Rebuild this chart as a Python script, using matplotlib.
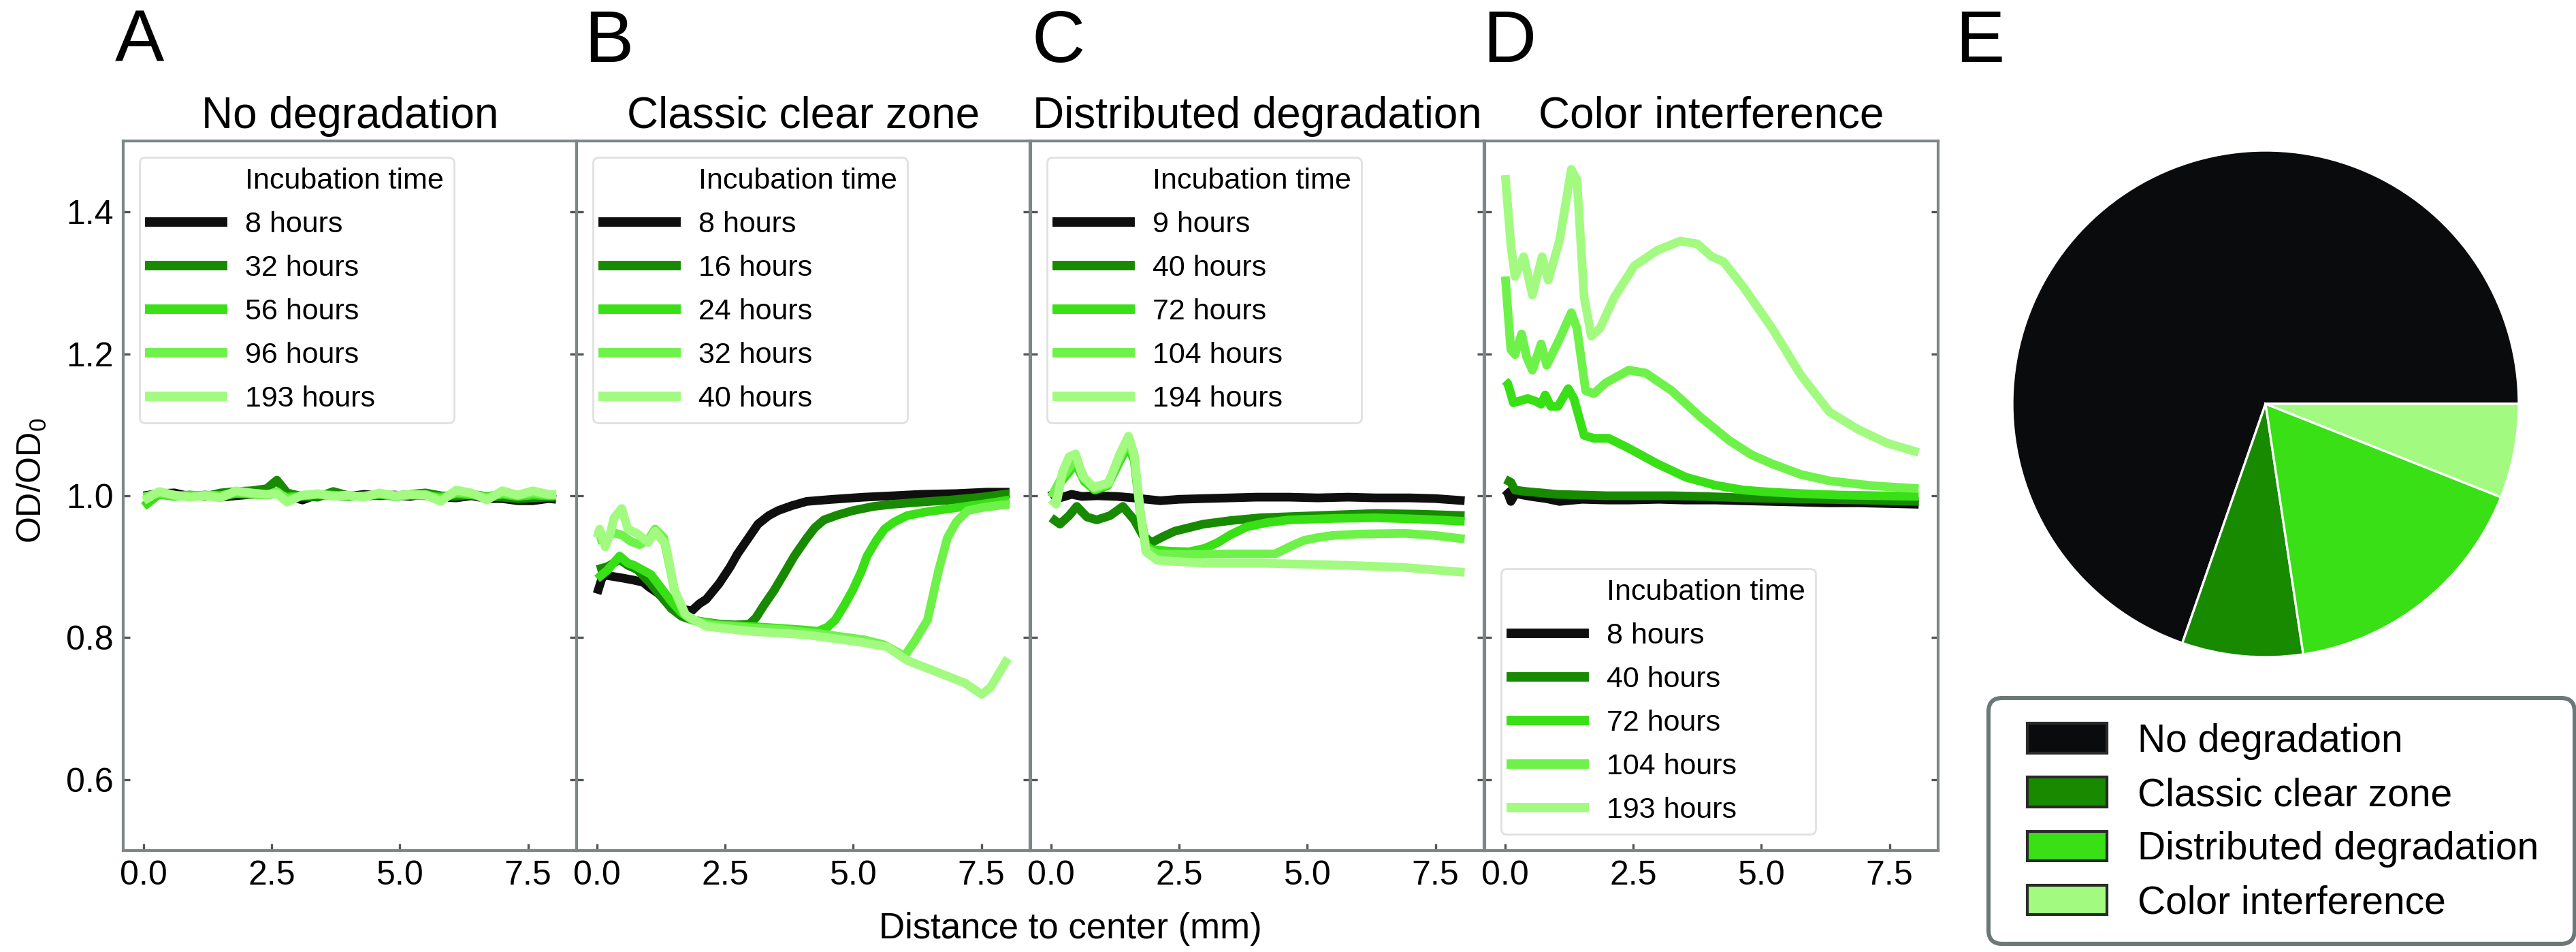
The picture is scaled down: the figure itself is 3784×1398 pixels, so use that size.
import matplotlib
matplotlib.use("Agg")
import matplotlib.pyplot as plt
from matplotlib.patches import Patch, FancyBboxPatch
from matplotlib.lines import Line2D

plt.rcParams['font.family'] = ['Liberation Sans', 'DejaVu Sans']
plt.rcParams['mathtext.default'] = 'regular'

W, H, DPI = 3784, 1398, 200

# line colours, darkest to palest
line_colors = ['#0f0f0f', '#178a00', '#38e015', '#6ef24a', '#a2fb80']

titles = ['No degradation', 'Classic clear zone', 'Distributed degradation', 'Color interference']
letters = ['A', 'B', 'C', 'D', 'E']

# ---- panel A: no degradation ----
none_labels = ['8 hours', '32 hours', '56 hours', '96 hours', '193 hours']
none_x = [0.0, 0.3, 0.6, 0.9, 1.2, 1.5, 1.8, 2.1, 2.4, 2.6, 2.8, 3.1, 3.4, 3.7, 4.0,
          4.3, 4.6, 4.9, 5.2, 5.5, 5.8, 6.1, 6.4, 6.7, 7.0, 7.3, 7.6, 7.9, 8.05]
none_8h = [1.000, 1.003, 1.004, 0.999, 1.001, 0.998, 1.000, 1.002, 1.003, 1.004, 1.000, 0.994, 1.002, 1.000, 0.999,
           1.002, 1.000, 1.001, 0.999, 1.003, 0.998, 0.997, 1.000, 0.996, 0.996, 0.993, 0.993, 0.996, 0.995]
none_32h = [0.999, 1.002, 1.000, 1.001, 0.999, 1.004, 1.006, 1.007, 1.010, 1.022, 1.004, 0.999, 0.998, 1.006, 1.000,
            0.999, 1.001, 1.000, 1.002, 1.004, 1.000, 0.999, 1.002, 0.999, 0.998, 0.996, 0.997, 0.998, 0.998]
none_56h = [0.985, 1.002, 0.999, 1.001, 1.000, 0.999, 1.003, 1.002, 1.001, 1.003, 0.998, 1.000, 1.002, 1.001, 0.999,
            1.000, 1.002, 0.999, 1.001, 1.000, 0.998, 1.003, 1.001, 0.999, 1.002, 0.999, 1.001, 1.000, 1.000]
none_96h = [0.998, 1.004, 1.000, 0.999, 1.001, 1.000, 1.005, 1.003, 1.001, 1.006, 0.995, 1.000, 1.002, 1.000, 1.000,
            0.999, 1.003, 1.000, 1.001, 1.002, 0.995, 1.005, 1.003, 0.997, 1.004, 1.000, 1.004, 1.001, 1.001]
none_193h = [0.993, 1.006, 1.001, 0.998, 1.000, 0.997, 1.007, 1.004, 1.002, 1.003, 0.991, 1.001, 1.003, 0.999, 1.001,
             0.998, 1.004, 1.000, 1.002, 1.001, 0.992, 1.008, 1.004, 0.994, 1.007, 1.001, 1.007, 1.002, 1.002]

# ---- panel B: classic clear zone ----
clear_labels = ['8 hours', '16 hours', '24 hours', '32 hours', '40 hours']
clear_8h_x = [0.0, 0.1, 0.16, 0.33, 0.5, 0.72, 0.9, 1.0, 1.2, 1.45, 1.65, 1.85, 2.0, 2.13, 2.38,
              2.6, 2.74, 2.95, 3.14, 3.35, 3.53, 3.8, 4.09, 4.6, 5.21, 5.8, 6.33, 7.0, 7.6, 8.05]
clear_8h_y = [0.862, 0.885, 0.888, 0.886, 0.884, 0.881, 0.878, 0.872, 0.862, 0.845, 0.840, 0.838, 0.848, 0.854, 0.876,
              0.900, 0.918, 0.940, 0.960, 0.972, 0.979, 0.986, 0.992, 0.995, 0.998, 1.000, 1.002, 1.003, 1.005, 1.005]
clear_16h_x = [0.0, 0.2, 0.44, 0.6, 0.78, 1.05, 1.25, 1.45, 1.65, 1.85, 2.1, 2.41, 2.7, 2.97, 3.1,
               3.25, 3.45, 3.64, 3.85, 4.09, 4.25, 4.43, 4.7, 4.99, 5.4, 5.77, 6.3, 6.9, 7.5, 8.05]
clear_16h_y = [0.896, 0.900, 0.910, 0.902, 0.896, 0.876, 0.858, 0.841, 0.830, 0.825, 0.822, 0.819, 0.818, 0.819, 0.828,
               0.845, 0.866, 0.889, 0.915, 0.940, 0.955, 0.966, 0.973, 0.979, 0.985, 0.988, 0.991, 0.994, 0.998, 1.003]
clear_24h_x = [0.0, 0.2, 0.44, 0.6, 0.72, 1.05, 1.25, 1.45, 1.65, 1.85, 2.4, 2.97, 3.6, 4.0, 4.31,
               4.5, 4.65, 4.82, 4.99, 5.15, 5.27, 5.45, 5.61, 5.8, 6.05, 6.4, 6.9, 7.5, 8.05]
clear_24h_y = [0.883, 0.895, 0.915, 0.905, 0.902, 0.889, 0.870, 0.851, 0.835, 0.825, 0.818, 0.816, 0.813, 0.811, 0.809,
               0.815, 0.825, 0.845, 0.867, 0.892, 0.915, 0.937, 0.953, 0.963, 0.972, 0.977, 0.982, 0.988, 0.994]
clear_32h_x = [0.0, 0.15, 0.33, 0.5, 0.65, 0.83, 1.0, 1.13, 1.3, 1.51, 1.7, 1.85, 2.2, 2.97,
               3.53, 4.3, 5.21, 5.6, 6.0, 6.2, 6.45, 6.67, 6.84, 7.01, 7.23, 7.5, 7.8, 8.05]
clear_32h_y = [0.937, 0.940, 0.948, 0.944, 0.936, 0.931, 0.938, 0.953, 0.941, 0.867, 0.834, 0.825, 0.818, 0.814,
               0.812, 0.806, 0.797, 0.790, 0.774, 0.795, 0.825, 0.896, 0.941, 0.963, 0.979, 0.983, 0.986, 0.988]
clear_40h_x = [0.0, 0.05, 0.16, 0.25, 0.33, 0.48, 0.6, 0.78, 1.0, 1.13, 1.34, 1.51, 1.73, 2.13,
               2.97, 4.09, 5.21, 5.66, 6.05, 6.62, 7.18, 7.51, 7.68, 8.02]
clear_40h_y = [0.941, 0.953, 0.928, 0.945, 0.969, 0.982, 0.953, 0.947, 0.934, 0.950, 0.931, 0.867, 0.832, 0.816,
               0.809, 0.804, 0.793, 0.787, 0.768, 0.752, 0.736, 0.720, 0.730, 0.771]

# ---- panel C: distributed degradation ----
dist_labels = ['9 hours', '40 hours', '72 hours', '104 hours', '194 hours']
dist_9h_x = [0.0, 0.1, 0.22, 0.4, 0.6, 0.9, 1.29, 1.6, 2.13, 2.5, 2.97, 3.5, 4.0, 4.65, 5.2, 5.8, 6.33, 7.0, 7.5, 8.07]
dist_9h_y = [1.008, 0.996, 0.998, 1.002, 0.999, 1.000, 0.999, 0.997, 0.993, 0.995, 0.996, 0.997, 0.998, 0.998,
             0.997, 0.998, 0.997, 0.997, 0.996, 0.993]
dist_40h_x = [0.0, 0.17, 0.35, 0.5, 0.7, 0.89, 1.15, 1.4, 1.62, 1.79, 1.96, 2.2, 2.41, 2.97, 3.5, 4.09, 5.21, 6.33, 7.2, 8.07]
dist_40h_y = [0.969, 0.960, 0.972, 0.985, 0.970, 0.966, 0.972, 0.985, 0.966, 0.944, 0.934, 0.943, 0.950, 0.960,
              0.965, 0.969, 0.972, 0.975, 0.974, 0.972]
dist_72h_x = [0.0, 0.2, 0.48, 0.65, 0.85, 1.1, 1.35, 1.5, 1.62, 1.74, 1.85, 1.96, 2.3, 2.69, 3.0, 3.25, 3.5,
              3.81, 4.2, 4.65, 5.5, 6.33, 7.2, 8.07]
dist_72h_y = [0.998, 1.020, 1.045, 1.020, 1.008, 1.014, 1.050, 1.070, 1.050, 0.975, 0.930, 0.924, 0.922, 0.921,
              0.926, 0.934, 0.945, 0.956, 0.962, 0.966, 0.968, 0.969, 0.967, 0.964]
dist_104h_x = [0.0, 0.2, 0.48, 0.65, 0.85, 1.1, 1.35, 1.5, 1.62, 1.74, 1.85, 2.07, 2.6, 3.53, 4.37, 4.65, 4.93,
               5.2, 5.49, 6.0, 6.9, 7.5, 8.07]
dist_104h_y = [0.998, 1.025, 1.052, 1.024, 1.010, 1.016, 1.055, 1.078, 1.055, 0.977, 0.925, 0.918, 0.917, 0.918,
               0.918, 0.928, 0.937, 0.941, 0.944, 0.946, 0.947, 0.944, 0.939]
dist_194h_x = [0.0, 0.1, 0.22, 0.35, 0.48, 0.61, 0.83, 1.12, 1.34, 1.51, 1.62, 1.74, 1.85, 2.07, 2.97, 4.09,
               5.77, 6.9, 8.07]
dist_194h_y = [0.995, 0.988, 1.033, 1.055, 1.059, 1.028, 1.012, 1.018, 1.059, 1.084, 1.059, 0.979, 0.921, 0.909,
               0.905, 0.905, 0.902, 0.899, 0.892]

# ---- panel D: color interference ----
color_labels = ['8 hours', '40 hours', '72 hours', '104 hours', '193 hours']
color_8h_x = [0.0, 0.05, 0.11, 0.2, 0.5, 0.8, 1.06, 1.5, 2.0, 2.4, 3.0, 3.5, 4.1, 4.6, 5.2, 5.8, 6.3, 6.9, 7.5, 8.07]
color_8h_y = [1.008, 1.004, 0.992, 1.003, 0.999, 0.996, 0.992, 0.995, 0.994, 0.994, 0.995, 0.994, 0.994, 0.993,
              0.992, 0.991, 0.990, 0.990, 0.989, 0.988]
color_40h_x = [0.0, 0.11, 0.19, 0.4, 0.72, 1.0, 1.5, 2.0, 2.6, 3.25, 3.9, 4.65, 5.4, 6.2, 7.0, 8.07]
color_40h_y = [1.023, 1.019, 1.008, 1.006, 1.004, 1.002, 1.001, 1.000, 1.000, 1.000, 0.999, 0.997, 0.996, 0.995,
               0.994, 0.992]
color_72h_x = [0.0, 0.05, 0.16, 0.3, 0.44, 0.6, 0.7, 0.78, 0.89, 1.03, 1.23, 1.34, 1.54, 1.73, 2.02, 2.41, 2.97,
               3.53, 4.09, 4.65, 5.2, 5.77, 6.5, 7.3, 8.07]
color_72h_y = [1.162, 1.158, 1.131, 1.134, 1.137, 1.133, 1.129, 1.142, 1.126, 1.126, 1.151, 1.137, 1.085, 1.081,
               1.081, 1.067, 1.045, 1.026, 1.015, 1.008, 1.005, 1.003, 1.001, 1.000, 0.999]
color_104h_x = [0.0, 0.11, 0.19, 0.32, 0.42, 0.53, 0.7, 0.81, 1.06, 1.29, 1.4, 1.57, 1.73, 1.96, 2.41, 2.74,
                3.25, 3.81, 4.37, 4.8, 5.21, 5.77, 6.33, 7.18, 8.07]
color_104h_y = [1.309, 1.206, 1.199, 1.228, 1.195, 1.177, 1.214, 1.184, 1.221, 1.258, 1.236, 1.148, 1.144, 1.159,
                1.177, 1.173, 1.148, 1.111, 1.078, 1.058, 1.045, 1.030, 1.021, 1.014, 1.010]
color_193h_x = [0.0, 0.11, 0.19, 0.36, 0.53, 0.72, 0.84, 1.06, 1.29, 1.40, 1.54, 1.68, 1.85, 2.13, 2.52, 2.97,
                3.42, 3.75, 4.03, 4.26, 4.65, 5.21, 5.77, 6.33, 6.9, 7.46, 8.07]
color_193h_y = [1.452, 1.353, 1.309, 1.337, 1.283, 1.337, 1.304, 1.360, 1.460, 1.445, 1.280, 1.225, 1.236, 1.280,
                1.324, 1.346, 1.359, 1.355, 1.337, 1.330, 1.294, 1.236, 1.170, 1.118, 1.093, 1.074, 1.061]

# ---- panel E: share of each pattern (%) ----
pie_labels = ['No degradation', 'Classic clear zone', 'Distributed degradation', 'Color interference']
pie_values = [69.6, 7.7, 16.6, 6.0]
pie_colors = ['#0a0b0d', '#178a00', '#38e015', '#a2fb80']

panels = [
    (none_labels, [(none_x, none_8h), (none_x, none_32h), (none_x, none_56h), (none_x, none_96h), (none_x, none_193h)]),
    (clear_labels, [(clear_8h_x, clear_8h_y), (clear_16h_x, clear_16h_y), (clear_24h_x, clear_24h_y),
                    (clear_32h_x, clear_32h_y), (clear_40h_x, clear_40h_y)]),
    (dist_labels, [(dist_9h_x, dist_9h_y), (dist_40h_x, dist_40h_y), (dist_72h_x, dist_72h_y),
                   (dist_104h_x, dist_104h_y), (dist_194h_x, dist_194h_y)]),
    (color_labels, [(color_8h_x, color_8h_y), (color_40h_x, color_40h_y), (color_72h_x, color_72h_y),
                    (color_104h_x, color_104h_y), (color_193h_x, color_193h_y)]),
]

fig = plt.figure(figsize=(W / DPI, H / DPI), dpi=DPI)

def px_box(x0, y0, x1, y1):
    # pixel box (top-left origin) -> figure fraction rect
    return [x0 / W, 1 - y1 / H, (x1 - x0) / W, (y1 - y0) / H]

ax_lefts = [181, 847, 1514, 2181]
ax_w = 666
spine_col = '#7d8787'

for i, (labels, series) in enumerate(panels):
    ax = fig.add_axes(px_box(ax_lefts[i], 207, ax_lefts[i] + ax_w, 1249))
    for (xs, ys), c, lab in zip(series, line_colors, labels):
        ax.plot(xs, ys, color=c, lw=4.6, label=lab, solid_capstyle='butt', solid_joinstyle='round')
    ax.set_xlim(-0.4, 8.45)
    ax.set_ylim(0.5, 1.5)
    ax.set_xticks([0, 2.5, 5.0, 7.5])
    ax.set_xticklabels(['0.0', '2.5', '5.0', '7.5'])
    ax.set_yticks([0.6, 0.8, 1.0, 1.2, 1.4])
    ax.set_yticklabels(['0.6', '0.8', '1.0', '1.2', '1.4'])
    ax.tick_params(direction='in', length=3.5, width=1.2, color='#555555', labelsize=18, pad=5,
                   left=True, right=True, top=False, bottom=True, labelleft=(i == 0))
    for sp in ax.spines.values():
        sp.set_color(spine_col)
        sp.set_linewidth(1.5)
    ax.set_title(titles[i], fontsize=23, pad=7)

    # seaborn-style legend: the hue name sits as a blank first entry
    handles = [Line2D([], [], color='none', label='Incubation time')]
    handles += [Line2D([], [], color=c, lw=5, label=lab) for c, lab in zip(line_colors, labels)]
    ax.legend(handles=handles, loc='lower left' if i == 3 else 'upper left', fontsize=15.5,
              handlelength=2.5, handletextpad=0.75, borderpad=0.35, borderaxespad=0.55,
              labelspacing=0.56, edgecolor='0.85', framealpha=0.8)

fig.text(47 / W, 1 - 706 / H, 'OD/OD$_0$', rotation=90, ha='center', va='center', fontsize=18)
fig.text(1572 / W, 1 - 1364 / H, 'Distance to center (mm)', ha='center', va='center', fontsize=19)

letter_x = [169, 858, 1515, 2178, 2872]
for lx, lt in zip(letter_x, letters):
    fig.text(lx / W, 1 - 91 / H, lt, ha='left', va='baseline', fontsize=39)

# pie
ax_e = fig.add_axes(px_box(2956, 221, 3700, 965))
ax_e.pie(pie_values, colors=pie_colors, startangle=0, counterclock=True,
         wedgeprops=dict(edgecolor='white', linewidth=1.2))
ax_e.set_xlim(-1, 1)
ax_e.set_ylim(-1, 1)
ax_e.set_aspect('equal')

frame = FancyBboxPatch((2921 / DPI, (H - 1386) / DPI), 861 / DPI, 361 / DPI,
                       boxstyle='round,pad=0,rounding_size=0.1', transform=fig.dpi_scale_trans,
                       facecolor='none', edgecolor='#6b7878', linewidth=2.2)
fig.patches.append(frame)

pie_handles = [Patch(facecolor=c, edgecolor='#2a2a2a', linewidth=1.5, label=lab)
               for c, lab in zip(pie_colors, pie_labels)]
fig.legend(handles=pie_handles, loc='upper left', bbox_to_anchor=(2978 / W, 1 - 1062 / H),
           frameon=False, fontsize=20.5, handlelength=2.05, handleheight=0.8,
           handletextpad=0.8, labelspacing=0.44, borderpad=0, borderaxespad=0)

fig.savefig('out.png', dpi=DPI)
